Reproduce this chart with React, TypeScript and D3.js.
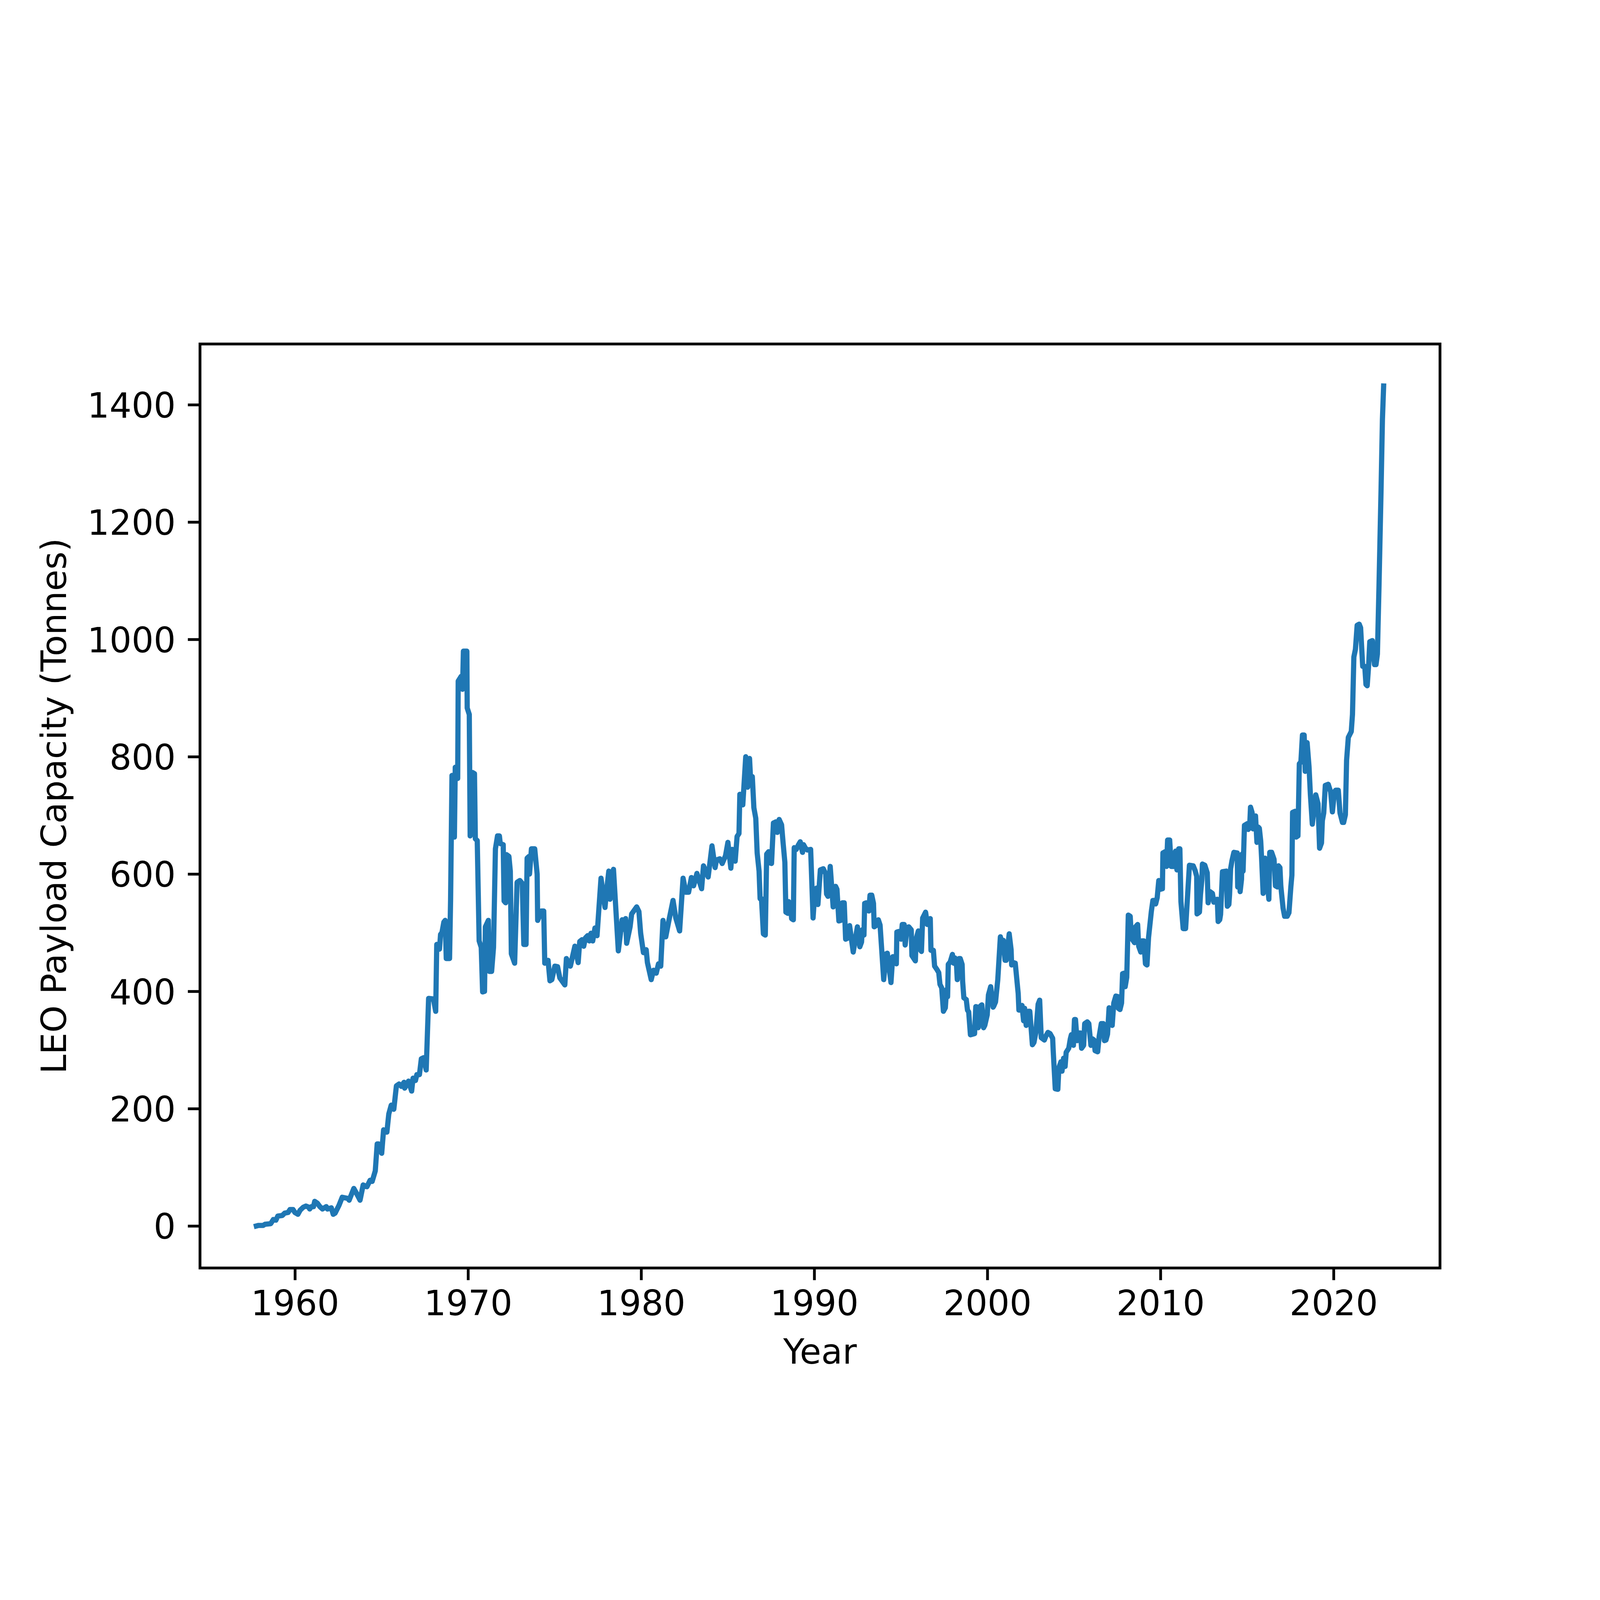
import { useEffect, useRef } from 'react';
import * as d3 from 'd3';

// LEO payload capacity (year, tonnes)
const years: number[] = [
  1957.77, 1957.9, 1958.16, 1958.27, 1958.6, 1958.75, 1958.9, 1959.01, 1959.27, 1959.41, 1959.6, 1959.71, 1959.89,
  1960.0, 1960.17, 1960.3, 1960.48, 1960.63, 1960.8, 1960.85, 1960.95, 1961.07, 1961.14, 1961.29, 1961.44, 1961.59,
  1961.81, 1961.88, 1962.1, 1962.21, 1962.32, 1962.54, 1962.73, 1963.06, 1963.13, 1963.4, 1963.55, 1963.76, 1963.94,
  1964.16, 1964.34, 1964.46, 1964.64, 1964.75, 1964.82, 1965.01, 1965.12, 1965.31, 1965.42, 1965.56, 1965.71, 1965.86,
  1966.01, 1966.15, 1966.3, 1966.34, 1966.56, 1966.74, 1966.82, 1966.96, 1967.04, 1967.19, 1967.3, 1967.44,
  // 1967 - 1974
  1967.58, 1967.72, 1968.0, 1968.13, 1968.19, 1968.35, 1968.41, 1968.49, 1968.6, 1968.68, 1968.74, 1968.93, 1968.99,
  1969.07, 1969.15, 1969.21, 1969.26, 1969.4, 1969.43, 1969.6, 1969.68, 1969.73, 1969.93, 1969.95, 1970.07, 1970.12,
  1970.26, 1970.37, 1970.42, 1970.53, 1970.64, 1970.76, 1970.84, 1970.95, 1971.0, 1971.17, 1971.23, 1971.36, 1971.47,
  1971.58, 1971.7, 1971.81, 1971.86, 1972.03, 1972.08, 1972.17, 1972.22, 1972.36, 1972.44, 1972.5, 1972.69, 1972.83,
  1972.99, 1973.13, 1973.22, 1973.35, 1973.41, 1973.52, 1973.55, 1973.66, 1973.85, 1973.99, 1974.02, 1974.24, 1974.37,
  1974.43, 1974.62, 1974.73,
  // 1974 - 1984
  1974.84, 1975.01, 1975.17, 1975.3, 1975.59, 1975.68, 1975.91, 1976.17, 1976.36, 1976.45, 1976.58, 1976.68, 1976.78,
  1976.91, 1977.0, 1977.1, 1977.2, 1977.33, 1977.45, 1977.68, 1977.91, 1978.0, 1978.13, 1978.2, 1978.4, 1978.68,
  1978.9, 1979.0, 1979.1, 1979.16, 1979.36, 1979.45, 1979.74, 1979.87, 1979.97, 1980.13, 1980.29, 1980.36, 1980.58,
  1980.71, 1980.87, 1981.0, 1981.13, 1981.26, 1981.42, 1981.61, 1981.84, 1982.0, 1982.22, 1982.42, 1982.58, 1982.74,
  1982.9, 1983.03, 1983.22, 1983.49, 1983.6, 1983.87, 1984.09,
  // 1984 - 1992
  1984.27, 1984.35, 1984.54, 1984.68, 1984.87, 1985.01, 1985.18, 1985.26, 1985.43, 1985.54, 1985.65, 1985.7, 1985.87,
  1986.04, 1986.15, 1986.26, 1986.31, 1986.42, 1986.51, 1986.62, 1986.7, 1986.81, 1986.87, 1986.95, 1987.06, 1987.17,
  1987.25, 1987.36, 1987.44, 1987.53, 1987.64, 1987.78, 1987.86, 1987.97, 1988.11, 1988.19, 1988.3, 1988.36, 1988.47,
  1988.52, 1988.63, 1988.69, 1988.79, 1988.84, 1988.96, 1989.07, 1989.19, 1989.32, 1989.38, 1989.49, 1989.6, 1989.79,
  1989.93, 1990.04, 1990.13, 1990.21, 1990.35, 1990.52, 1990.66, 1990.71, 1990.79, 1990.92, 1991.09, 1991.23, 1991.31,
  1991.42, 1991.53, 1991.62, 1991.73, 1991.81, 1991.95,
  // 1992 - 2002
  1992.04, 1992.25, 1992.49, 1992.63, 1992.73, 1992.77, 1992.87, 1992.91, 1993.0, 1993.15, 1993.22, 1993.32, 1993.42,
  1993.46, 1993.56, 1993.7, 1993.8, 1993.87, 1994.01, 1994.15, 1994.22, 1994.43, 1994.53, 1994.63, 1994.74, 1994.77,
  1994.88, 1995.01, 1995.08, 1995.19, 1995.25, 1995.36, 1995.46, 1995.6, 1995.64, 1995.84, 1995.88, 1996.01, 1996.12,
  1996.19, 1996.26, 1996.43, 1996.53, 1996.7, 1996.74, 1996.88, 1996.95, 1997.09, 1997.19, 1997.26, 1997.36, 1997.46,
  1997.57, 1997.64, 1997.7, 1997.74, 1997.85, 1997.98, 1998.05, 1998.12, 1998.22, 1998.26, 1998.36, 1998.43, 1998.54,
  1998.57, 1998.64, 1998.78, 1998.85, 1998.92, 1999.02, 1999.26, 1999.33, 1999.43, 1999.47, 1999.6, 1999.68, 1999.78,
  1999.85, 1999.99, 2000.06, 2000.19, 2000.33, 2000.37, 2000.47, 2000.6, 2000.75, 2000.88, 2000.92, 2001.02, 2001.09,
  2001.26, 2001.37, 2001.4, 2001.51, 2001.61, 2001.78, 2001.82, 2002.0, 2002.09,
  // 2002 - 2010
  2002.15, 2002.24, 2002.38, 2002.45, 2002.6, 2002.69, 2002.8, 2002.93, 2003.02, 2003.11, 2003.29, 2003.38, 2003.5,
  2003.62, 2003.77, 2003.8, 2003.86, 2003.92, 2004.07, 2004.13, 2004.25, 2004.31, 2004.4, 2004.49, 2004.55, 2004.7,
  2004.79, 2004.85, 2004.97, 2005.03, 2005.09, 2005.18, 2005.26, 2005.38, 2005.44, 2005.56, 2005.62, 2005.77, 2005.86,
  2005.98, 2006.07, 2006.16, 2006.22, 2006.37, 2006.46, 2006.58, 2006.7, 2006.76, 2006.85, 2006.94, 2007.03, 2007.15,
  2007.21, 2007.3, 2007.42, 2007.54, 2007.57, 2007.66, 2007.75, 2007.81, 2007.9, 2007.96, 2008.05, 2008.14, 2008.25,
  2008.32, 2008.5, 2008.56, 2008.68, 2008.74, 2008.86, 2008.92, 2009.04, 2009.13, 2009.22, 2009.31, 2009.47, 2009.56,
  2009.63, 2009.72, 2009.81, 2009.9, 2009.99, 2010.11, 2010.14, 2010.26, 2010.35, 2010.41, 2010.53, 2010.62, 2010.75,
  // 2010 - 2019
  2010.87, 2010.95, 2011.05, 2011.12, 2011.18, 2011.31, 2011.45, 2011.67, 2011.89, 2012.0, 2012.09, 2012.11, 2012.25,
  2012.31, 2012.39, 2012.42, 2012.56, 2012.7, 2012.75, 2012.86, 2013.0, 2013.08, 2013.17, 2013.28, 2013.33, 2013.42,
  2013.47, 2013.58, 2013.8, 2013.86, 2013.95, 2013.99, 2014.05, 2014.13, 2014.24, 2014.43, 2014.46, 2014.57, 2014.6,
  2014.68, 2014.71, 2014.77, 2014.85, 2015.02, 2015.07, 2015.15, 2015.2, 2015.29, 2015.35, 2015.49, 2015.57, 2015.65,
  2015.71, 2015.79, 2015.84, 2015.93, 2016.04, 2016.12, 2016.26, 2016.31, 2016.42, 2016.56, 2016.64, 2016.76, 2016.82,
  2016.9, 2016.95, 2017.0, 2017.08, 2017.17, 2017.32, 2017.42, 2017.53, 2017.59, 2017.63, 2017.78, 2017.83, 2017.94,
  2018.02, 2018.11, 2018.2, 2018.3, 2018.36, 2018.47, 2018.58, 2018.66, 2018.77, 2018.97, 2019.1, 2019.19, 2019.3,
  2019.35, 2019.43,
  // 2019 - 2022
  2019.52, 2019.69, 2019.83, 2019.93, 2020.05, 2020.12, 2020.27, 2020.37, 2020.51, 2020.58, 2020.68, 2020.75, 2020.85,
  2021.02, 2021.09, 2021.17, 2021.26, 2021.36, 2021.48, 2021.56, 2021.68, 2021.8, 2021.87, 2021.94, 2022.02, 2022.09,
  2022.24, 2022.3, 2022.36, 2022.45, 2022.53, 2022.62, 2022.74, 2022.82, 2022.89,
];

const capacity: number[] = [
  0, 1, 1, 3, 4, 11, 10, 17, 18, 22, 23, 28, 28,
  23, 20, 27, 32, 34, 32, 29, 33, 33, 42, 39, 33, 29,
  33, 29, 31, 20, 22, 35, 49, 47, 44, 64, 56, 44, 70,
  67, 78, 76, 94, 140, 140, 124, 164, 160, 191, 206, 199, 239,
  242, 238, 245, 235, 247, 230, 252, 248, 258, 258, 285, 287,
  // 1967 - 1974
  266, 388, 387, 366, 480, 472, 497, 500, 518, 521, 456, 456, 556,
  768, 768, 663, 782, 763, 929, 937, 915, 980, 980, 883, 872, 665,
  773, 771, 660, 657, 486, 475, 399, 400, 510, 521, 434, 434, 475,
  643, 665, 665, 652, 650, 554, 551, 633, 630, 605, 464, 448, 586,
  589, 584, 480, 480, 627, 630, 600, 643, 643, 600, 521, 537, 537,
  448, 453, 418,
  // 1974 - 1984
  420, 443, 442, 423, 411, 456, 443, 477, 449, 485, 488, 477, 491,
  495, 486, 499, 486, 508, 495, 593, 543, 571, 605, 557, 608, 469,
  522, 506, 524, 482, 510, 532, 544, 536, 499, 466, 471, 449, 420,
  436, 431, 447, 443, 521, 493, 522, 555, 525, 503, 593, 569, 569,
  594, 580, 601, 575, 614, 595, 648,
  // 1984 - 1992
  611, 624, 626, 618, 631, 654, 610, 642, 622, 664, 669, 736, 718,
  800, 748, 797, 768, 766, 713, 695, 636, 605, 558, 558, 498, 496,
  634, 638, 619, 618, 687, 689, 671, 693, 684, 656, 620, 535, 533,
  553, 549, 524, 522, 645, 642, 649, 655, 637, 650, 644, 641, 642,
  525, 574, 576, 548, 607, 609, 600, 566, 562, 613, 544, 579, 574,
  520, 521, 551, 551, 489, 491,
  // 1992 - 2002
  512, 467, 510, 476, 484, 505, 496, 550, 551, 537, 564, 564, 550,
  510, 512, 522, 513, 482, 420, 464, 465, 415, 459, 459, 447, 501,
  502, 489, 514, 514, 479, 509, 510, 505, 461, 452, 489, 503, 471,
  468, 525, 535, 514, 524, 470, 470, 443, 437, 432, 412, 406, 366,
  372, 403, 391, 446, 450, 463, 448, 457, 443, 420, 456, 456, 446,
  417, 389, 386, 368, 365, 326, 328, 374, 373, 338, 375, 377, 338,
  342, 360, 394, 408, 373, 375, 382, 420, 493, 479, 487, 453, 453,
  498, 471, 445, 449, 448, 396, 368, 376, 350,
  // 2002 - 2010
  371, 342, 366, 366, 309, 313, 330, 378, 385, 321, 317, 324, 330,
  328, 320, 300, 267, 234, 233, 270, 280, 264, 286, 272, 296, 303,
  319, 326, 308, 352, 352, 316, 329, 329, 303, 308, 345, 348, 345,
  308, 319, 317, 299, 297, 324, 345, 345, 316, 317, 327, 372, 370,
  342, 380, 392, 391, 371, 369, 380, 430, 431, 408, 424, 530, 528,
  491, 483, 510, 514, 477, 467, 486, 486, 447, 445, 492, 536, 555,
  555, 549, 560, 589, 574, 575, 636, 638, 613, 658, 658, 613, 613,
  // 2010 - 2019
  639, 607, 643, 643, 553, 507, 507, 615, 614, 606, 596, 532, 535,
  565, 591, 617, 615, 602, 551, 570, 567, 552, 556, 557, 519, 522,
  531, 604, 605, 545, 548, 565, 609, 623, 637, 636, 578, 616, 570,
  591, 634, 605, 683, 686, 676, 680, 714, 705, 677, 699, 654, 680,
  678, 656, 627, 567, 627, 601, 557, 637, 637, 625, 580, 578, 614,
  611, 580, 565, 542, 528, 528, 534, 578, 598, 705, 707, 663, 665,
  788, 791, 837, 837, 775, 824, 783, 735, 685, 735, 720, 644, 653,
  691, 704,
  // 2019 - 2022
  751, 753, 740, 706, 740, 743, 743, 704, 688, 688, 701, 794, 833,
  843, 872, 970, 983, 1024, 1026, 1020, 954, 954, 923, 921, 954, 996,
  998, 975, 957, 957, 975, 1088, 1254, 1375, 1432,
];

const xTicks: number[] = [1960, 1970, 1980, 1990, 2000, 2010, 2020];
const yTicks: number[] = [0, 200, 400, 600, 800, 1000, 1200, 1400];

export default function LeoCapacityChart() {
  const svgRef = useRef<SVGSVGElement>(null);

  useEffect(() => {
    if (!svgRef.current) return;

    const width = 6400;
    const height = 4800;
    const margin = { top: 576, right: 640, bottom: 528, left: 800 };
    const innerWidth = width - margin.left - margin.right;
    const innerHeight = height - margin.top - margin.bottom;

    const pt = 1000 / 72; // figure is rendered at 1000 dpi
    const fontSize = 10 * pt;
    const tickLen = 3.5 * pt;
    const spineW = 0.8 * pt;

    const svg = d3.select(svgRef.current);
    svg.selectAll('*').remove();

    const data = years.map((yr, i) => ({ year: yr, value: capacity[i] }));

    // matplotlib-style 5% margins around the data
    const [x0, x1] = d3.extent(years) as [number, number];
    const [y0, y1] = d3.extent(capacity) as [number, number];
    const xPad = (x1 - x0) * 0.05;
    const yPad = (y1 - y0) * 0.05;

    const xScale = d3
      .scaleLinear()
      .domain([x0 - xPad, x1 + xPad])
      .range([0, innerWidth]);

    const yScale = d3
      .scaleLinear()
      .domain([y0 - yPad, y1 + yPad])
      .range([innerHeight, 0]);

    svg
      .append('rect')
      .attr('width', width)
      .attr('height', height)
      .attr('fill', '#fff');

    const g = svg
      .append('g')
      .attr('transform', `translate(${margin.left},${margin.top})`);

    g.append('defs')
      .append('clipPath')
      .attr('id', 'plot-clip')
      .append('rect')
      .attr('width', innerWidth)
      .attr('height', innerHeight);

    // Line
    const line = d3
      .line<{ year: number; value: number }>()
      .x((d) => xScale(d.year))
      .y((d) => yScale(d.value));

    g.append('path')
      .datum(data)
      .attr('clip-path', 'url(#plot-clip)')
      .attr('d', line)
      .attr('fill', 'none')
      .attr('stroke', '#1f77b4')
      .attr('stroke-width', 1.5 * pt)
      .attr('stroke-linejoin', 'round')
      .attr('stroke-linecap', 'square');

    // X axis
    const xAxis = d3
      .axisBottom(xScale)
      .tickValues(xTicks)
      .tickSize(tickLen)
      .tickPadding(tickLen)
      .tickFormat((d) => String(d));
    const gx = g
      .append('g')
      .attr('transform', `translate(0,${innerHeight})`)
      .call(xAxis);
    gx.select('.domain').remove();
    gx.selectAll('line').attr('stroke', '#000').attr('stroke-width', spineW);
    gx.selectAll('text')
      .attr('dy', '0.66em')
      .attr('fill', '#000')
      .style('font-family', 'DejaVu Sans')
      .style('font-size', `${fontSize}px`);

    // Y axis
    const yAxis = d3
      .axisLeft(yScale)
      .tickValues(yTicks)
      .tickSize(tickLen)
      .tickPadding(tickLen)
      .tickFormat((d) => String(d));
    const gy = g.append('g').call(yAxis);
    gy.select('.domain').remove();
    gy.selectAll('line').attr('stroke', '#000').attr('stroke-width', spineW);
    gy.selectAll('text')
      .attr('dy', '0.364em')
      .attr('fill', '#000')
      .style('font-family', 'DejaVu Sans')
      .style('font-size', `${fontSize}px`);

    // Spines
    g.append('rect')
      .attr('width', innerWidth)
      .attr('height', innerHeight)
      .attr('fill', 'none')
      .attr('stroke', '#000')
      .attr('stroke-width', spineW);

    // Axis labels
    g.append('text')
      .attr('x', innerWidth / 2)
      .attr('y', innerHeight + 383)
      .attr('text-anchor', 'middle')
      .style('font-family', 'DejaVu Sans')
      .style('font-size', `${fontSize}px`)
      .attr('fill', '#000')
      .text('Year');

    g.append('text')
      .attr('transform', `translate(${264 - margin.left},${innerHeight / 2}) rotate(-90)`)
      .attr('text-anchor', 'middle')
      .style('font-family', 'DejaVu Sans')
      .style('font-size', `${fontSize}px`)
      .attr('fill', '#000')
      .text('LEO Payload Capacity (Tonnes)');

    return () => {
      svg.selectAll('*').remove();
    };
  }, []);

  // The window can be smaller than 6400x4800, so scale the figure to fit it
  return (
    <svg
      ref={svgRef}
      viewBox="0 0 6400 4800"
      preserveAspectRatio="xMidYMid meet"
      style={{ position: 'fixed', left: 0, top: 0, width: '100vw', height: '100vh', display: 'block' }}
    />
  );
}
